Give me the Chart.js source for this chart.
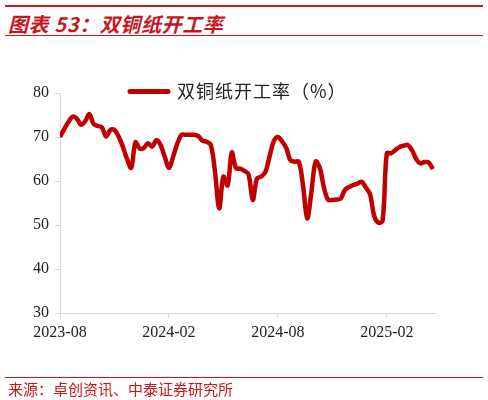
<!DOCTYPE html>
<html>
<head>
<meta charset="utf-8">
<script src="https://cdn.jsdelivr.net/npm/chart.js@4"></script>
<style>
  html, body { margin: 0; padding: 0; background: #fff; }
  body { width: 488px; height: 400px; position: relative; overflow: hidden; }
  .rule { position: absolute; left: 5px; width: 478px; background: #c8161e; }
  #title {
    position: absolute; left: 8px; top: 9px;
    font: italic bold 20px "Noto Sans CJK SC", sans-serif;
    color: #c8161e; white-space: nowrap; letter-spacing: 0.6px;
  }
  #source {
    position: absolute; left: 8px; top: 378px;
    font: 15px "Noto Sans CJK SC", sans-serif;
    color: #c8161e; white-space: nowrap;
  }
  #wrap { position: absolute; left: 0; top: 0; width: 488px; height: 400px; }
</style>
</head>
<body>
<div class="rule" style="top:5px;height:2px"></div>
<div id="title">图表 53：双铜纸开工率</div>
<div class="rule" style="top:35px;height:1px"></div>
<div id="wrap"><canvas id="rateChart"></canvas></div>
<div class="rule" style="top:377px;height:1px"></div>
<div id="source">来源：卓创资讯、中泰证券研究所</div>

<script>
// weekly coated duplex board operating rate, 2023-08 .. 2025-04 (%)
const rate = [
  70.0, 71.8, 73.4, 74.6, 74.2, 72.8, 73.6, 75.2, 73.0, 72.5,
  72.2, 70.1, 71.6, 71.6, 70.1, 67.8, 65.0, 63.0, 68.8, 67.4,
  67.5, 68.6, 67.8, 69.3, 68.2, 65.5, 63.0, 65.5, 68.5, 70.5,
  70.5, 70.5, 70.5, 70.2, 69.2, 68.9, 68.2, 62.0, 53.8, 61.0,
  59.0, 66.5, 62.9, 62.8, 62.3, 61.5, 55.7, 60.5, 61.0, 62.0,
  65.5, 69.0, 70.0, 69.0, 67.5, 64.7, 64.4, 64.4, 59.0, 51.5,
  57.5, 64.4, 63.0, 58.5, 55.7, 55.7, 55.8, 56.0, 58.0, 58.6,
  59.1, 59.4, 59.8, 58.5, 57.0, 52.0, 50.5, 51.0, 66.3, 66.3,
  67.0, 67.7, 68.0, 68.2, 67.0, 65.0, 64.0, 64.3, 64.2, 62.7
];
const tickWeeks = [0, 26, 52, 78];
const tickLabels = ['2023-08', '2024-02', '2024-08', '2025-02'];
const seriesName = '双铜纸开工率（%）';

const red = '#c00000';
const axisGrey = '#d9d9d9';
const tickFont = { family: '"Liberation Serif", "Times New Roman", serif', size: 16 };

// legend drawn inside the plot, just above the 80 line
const legendPlugin = {
  id: 'innerLegend',
  afterDraw(chart) {
    const ds = chart.data.datasets[0];
    const c = chart.ctx;
    c.save();
    c.strokeStyle = ds.borderColor;
    c.lineWidth = 5;
    c.lineCap = 'round';
    c.beginPath();
    c.moveTo(130, 91.5);
    c.lineTo(168, 91.5);
    c.stroke();
    c.fillStyle = '#222';
    c.font = '18px "Noto Sans CJK SC", sans-serif';
    c.letterSpacing = '1px';
    c.textBaseline = 'middle';
    c.fillText(ds.label, 177, 91);
    c.restore();
  }
};

new Chart(document.getElementById('rateChart'), {
  type: 'line',
  data: {
    datasets: [{
      label: seriesName,
      data: rate.map((v, i) => ({ x: i, y: v })),
      borderColor: red,
      backgroundColor: red,
      borderWidth: 4.5,
      pointRadius: 0,
      tension: 0.35,
      fill: false
    }]
  },
  options: {
    responsive: true,
    maintainAspectRatio: false,
    animation: false,
    layout: { padding: { top: 93, left: 0, right: 53, bottom: 57 } },
    plugins: {
      legend: { display: false },
      tooltip: { enabled: false }
    },
    scales: {
      x: {
        type: 'linear',
        min: 0,
        max: 89.5,
        afterBuildTicks: (scale) => { scale.ticks = tickWeeks.map(v => ({ value: v })); },
        afterFit: (scale) => { scale.height = 30; },
        ticks: {
          autoSkip: false,
          maxRotation: 0,
          padding: 5,
          color: '#222',
          font: tickFont,
          callback: (v) => tickLabels[tickWeeks.indexOf(v)]
        },
        grid: { drawOnChartArea: false, tickLength: 5, color: axisGrey },
        border: { color: axisGrey, width: 1 }
      },
      y: {
        min: 30,
        max: 80,
        afterFit: (scale) => { scale.width = 60; },
        ticks: { stepSize: 10, padding: 6, color: '#222', font: tickFont },
        grid: { drawOnChartArea: false, tickLength: 5, color: axisGrey },
        border: { color: axisGrey, width: 1 }
      }
    }
  },
  plugins: [legendPlugin]
});
</script>
</body>
</html>
